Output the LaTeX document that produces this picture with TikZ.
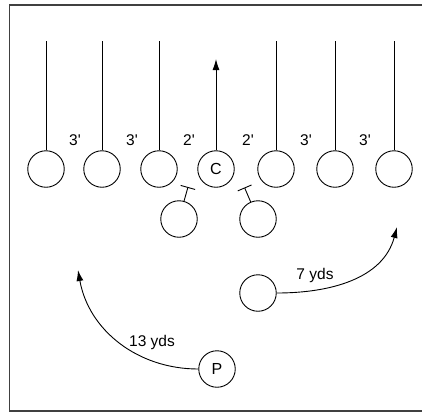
\documentclass[tikz,border=0pt]{standalone}
\usepackage{fontspec}
\setmainfont{Liberation Sans}
\usetikzlibrary{arrows.meta}

\begin{document}
\begin{tikzpicture}[x=1pt, y=-1pt,
    player/.style={draw, circle, minimum size=36.5pt, inner sep=0pt, line width=0.9pt, font=\fontsize{16}{19}\selectfont},
    gap/.style={font=\fontsize{15.5}{18}\selectfont},
    route/.style={line width=0.9pt},
    arr/.style={-{Latex[length=11pt,width=7pt]}, line width=0.9pt},
    blk/.style={-{Bar[width=15pt,line width=0.9pt]}, line width=0.9pt}
  ]
    \useasboundingbox (0,0) rectangle (422,413);
    \draw[line width=1.2pt, black!75] (424,5) -- (9.5,5) -- (9.5,411) -- (424,411);
    % line of scrimmage
    \node[player] (le) at (46,169) {};
    \node[player] (lt) at (102,169) {};
    \node[player] (lg) at (159,169) {};
    \node[player] (c) at (216,169) {C};
    \node[player] (rg) at (276,169) {};
    \node[player] (rt) at (335,169) {};
    \node[player] (re) at (394,169) {};
    \node[gap] (g1) at (75,140) {3\textquotesingle};
    \node[gap] (g2) at (132,140) {3\textquotesingle};
    \node[gap] (g3) at (189,140) {2\textquotesingle};
    \node[gap] (g4) at (248,140) {2\textquotesingle};
    \node[gap] (g5) at (306,140) {3\textquotesingle};
    \node[gap] (g6) at (365,140) {3\textquotesingle};
    \coordinate (topline) at (0,41);
    \coordinate (ctip) at (0,59);
    \draw[route] (le) -- (le |- topline);
    \draw[route] (lt) -- (lt |- topline);
    \draw[route] (lg) -- (lg |- topline);
    \draw[route] (rg) -- (rg |- topline);
    \draw[route] (rt) -- (rt |- topline);
    \draw[route] (re) -- (re |- topline);
    \draw[arr] (c) -- (c |- ctip);
    % backs
    \node[player] (lb) at (179,219) {};
    \node[player] (rb) at (258,219) {};
    \coordinate (lbk) at (188,187);
    \coordinate (rbk) at (244.5,187.5);
    \draw[blk] (lb) -- (lbk);
    \draw[blk] (rb) -- (rbk);
    \node[player] (wb) at (258,293) {};
    \node[player] (p) at (217,369) {P};
    \coordinate (wbend) at (397,227);
    \coordinate (pend) at (78,270);
    \draw[arr] (wb.east) to[out=0, in=-105] (wbend);
    \draw[arr] (p.west) to[out=180, in=-80] (pend);
    \node[gap] (y7) at (315,275) {7 yds};
    \node[gap] (y13) at (152,342) {13 yds};
  \end{tikzpicture}
\end{document}
